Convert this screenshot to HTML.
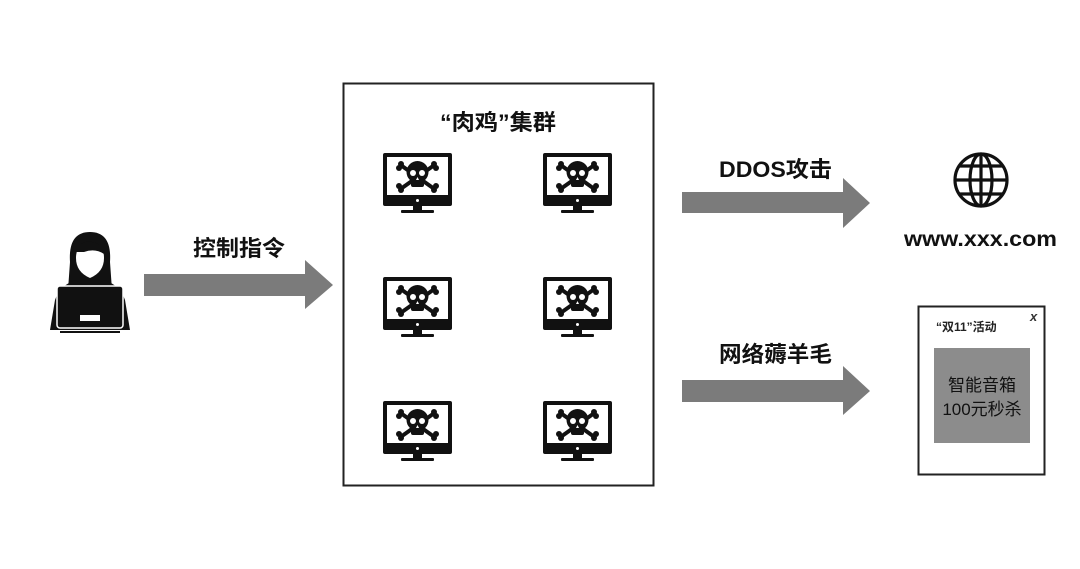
<!DOCTYPE html>
<html><head><meta charset="utf-8"><style>
html,body{margin:0;padding:0;background:#fff;}
svg{display:block;font-family:"Liberation Sans","Noto Sans CJK SC",sans-serif;}
</style></head><body>
<svg width="1080" height="569" viewBox="0 0 1080 569" xmlns="http://www.w3.org/2000/svg">
<defs>
<g id="mon">
  <rect x="0" y="0" width="69" height="53" rx="2" fill="#111"/>
  <rect x="4" y="4" width="61" height="38" fill="#fff"/>
  <circle cx="34.5" cy="47.5" r="1.5" fill="#fff"/>
  <rect x="30" y="53" width="9" height="5" fill="#111"/>
  <rect x="18" y="57" width="33" height="3" rx="1" fill="#111"/>
  <g fill="#111">
    <line x1="19" y1="13" x2="50" y2="35" stroke="#111" stroke-width="4"/>
    <line x1="50" y1="13" x2="19" y2="35" stroke="#111" stroke-width="4"/>
    <circle cx="18" cy="11" r="3"/><circle cx="16" cy="15" r="3"/>
    <circle cx="51" cy="11" r="3"/><circle cx="53" cy="15" r="3"/>
    <circle cx="18" cy="37" r="3"/><circle cx="16" cy="33" r="3"/>
    <circle cx="51" cy="37" r="3"/><circle cx="53" cy="33" r="3"/>
    <circle cx="34.5" cy="19" r="11"/>
    <rect x="28" y="24" width="13" height="10" rx="2"/>
  </g>
  <circle cx="30" cy="20" r="3" fill="#fff"/>
  <circle cx="39" cy="20" r="3" fill="#fff"/>
  <path d="M34.5 24 l-1.5 3 h3 z" fill="#fff"/>
</g>
</defs>

<!-- hacker -->
<g>
  <path d="M70 262 Q68 232 90 232 Q112 232 110 262 L112 290 L68 290 Z" fill="#111"/>
  <path d="M76 258 Q76 243 90 243 Q104 243 104 258 Q104 272 90 278 Q76 272 76 258 Z" fill="#fff"/>
  <path d="M76 252 Q80 240 92 242 Q104 244 104 254 Q95 248 84 252 Z" fill="#111"/>
  <path d="M50 330 L55 300 Q60 285 76 280 L90 290 L104 280 Q120 285 125 300 L130 330 Z" fill="#111"/>
  <rect x="57" y="286" width="66" height="42" rx="3" fill="#111" stroke="#fff" stroke-width="1.5"/>
  <rect x="80" y="315" width="20" height="6" fill="#fff"/>
  <rect x="60" y="331" width="60" height="2" fill="#111"/>
</g>

<text x="193" y="256" font-size="22" font-weight="bold" textLength="92" lengthAdjust="spacingAndGlyphs" fill="#111">控制指令</text>
<path d="M144 274 H305 V260 L333 285 L305 309 V296 H144 Z" fill="#7b7b7b"/>

<rect x="343.5" y="83.5" width="310" height="402" fill="none" stroke="#222" stroke-width="2"/>
<text x="440" y="130" font-size="22" font-weight="bold" textLength="116" lengthAdjust="spacingAndGlyphs" fill="#111">“肉鸡”集群</text>
<use href="#mon" x="383" y="153"/>
<use href="#mon" x="543" y="153"/>
<use href="#mon" x="383" y="277"/>
<use href="#mon" x="543" y="277"/>
<use href="#mon" x="383" y="401"/>
<use href="#mon" x="543" y="401"/>

<text x="719" y="177" font-size="22" font-weight="bold" textLength="113" lengthAdjust="spacingAndGlyphs" fill="#111">DDOS攻击</text>
<path d="M682 192 H843 V178 L870 203 L843 228 V213 H682 Z" fill="#7b7b7b"/>
<text x="719" y="362" font-size="22" font-weight="bold" textLength="113" lengthAdjust="spacingAndGlyphs" fill="#111">网络薅羊毛</text>
<path d="M682 380 H843 V366 L870 391 L843 415 V402 H682 Z" fill="#7b7b7b"/>

<!-- globe -->
<g fill="none" stroke="#111" stroke-width="3.2">
  <circle cx="981" cy="180" r="26"/>
  <ellipse cx="981" cy="180" rx="11" ry="26"/>
  <line x1="981" y1="154" x2="981" y2="206"/>
  <line x1="955" y1="180" x2="1007" y2="180"/>
  <line x1="959" y1="166" x2="1003" y2="166"/>
  <line x1="959" y1="194" x2="1003" y2="194"/>
</g>
<text x="904" y="246" font-size="21" font-weight="bold" textLength="153" lengthAdjust="spacingAndGlyphs" fill="#111">www.xxx.com</text>

<rect x="918.5" y="306.5" width="126" height="168" fill="#fff" stroke="#222" stroke-width="2"/>
<text x="936" y="331" font-size="12" font-weight="bold" fill="#222">“双11”活动</text>
<text x="1030" y="321" font-size="13" font-style="italic" font-weight="bold" fill="#333">x</text>
<rect x="934" y="348" width="96" height="95" fill="#8c8c8c"/>
<text x="982" y="391" font-size="17" text-anchor="middle" fill="#111">智能音箱</text>
<text x="982" y="415" font-size="17" text-anchor="middle" fill="#111">100元秒杀</text>
</svg>
</body></html>
